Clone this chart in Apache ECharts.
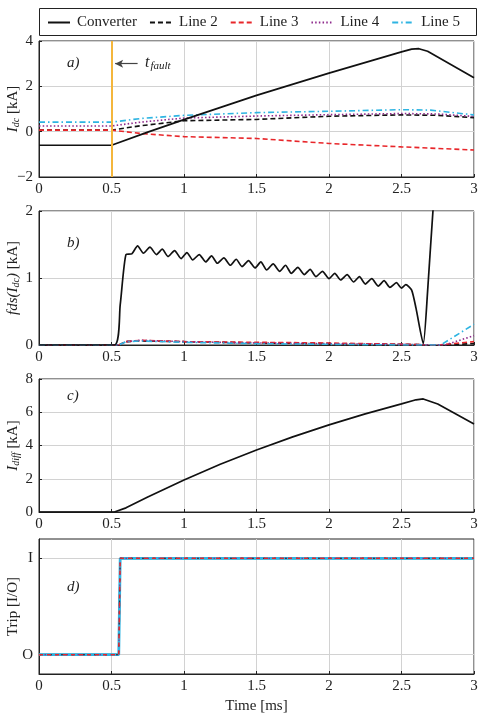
<!DOCTYPE html>
<html lang="en">
<head>
  <meta charset="UTF-8">
  <title>Fault currents</title>
  <script src="https://cdn.jsdelivr.net/npm/echarts@6/dist/echarts.min.js"></script>
  <style>
    html, body { margin: 0; padding: 0; background: #fff; }
    #chart { width: 481px; height: 713px; }
  </style>
</head>
<body>
  <div id="chart"></div>
  <script>
    // ---- data ----
    var xTicks = [0, 0.5, 1, 1.5, 2, 2.5, 3];
    var names = ['Converter', 'Line 2', 'Line 3', 'Line 4', 'Line 5'];
    var faultTime = 0.5;

    // a) DC currents [kA]
    var convA = [[0,-0.6],[0.5,-0.6],[0.75,-0.02],[1,0.53],[1.5,1.6],[2,2.58],[2.5,3.52],[2.57,3.64],[2.62,3.66],[2.68,3.55],[3,2.38]];
    var line2A = [[0,0.07],[0.5,0.07],[0.7,0.26],[1,0.48],[1.5,0.54],[2,0.68],[2.5,0.74],[2.75,0.72],[3,0.62]];
    var line3A = [[0,0.07],[0.5,0.07],[0.7,-0.08],[1,-0.22],[1.5,-0.3],[2,-0.52],[2.5,-0.67],[3,-0.81]];
    var line4A = [[0,0.25],[0.5,0.25],[0.7,0.42],[1,0.6],[1.5,0.69],[2,0.75],[2.5,0.8],[2.75,0.78],[3,0.67]];
    var line5A = [[0,0.42],[0.5,0.42],[0.7,0.58],[1,0.72],[1.5,0.84],[2,0.9],[2.5,0.97],[2.7,0.95],[3,0.74]];

    // b) fds(Idc) [kA]
    var convB = [[0,0],[0.52,0],[0.56,0.6],[0.6,1.35],[0.64,1.36],[0.68,1.48],[0.72,1.37],[0.765,1.46],[0.81,1.35],
      [0.85,1.43],[0.89,1.32],[0.935,1.41],[0.98,1.29],[1.02,1.38],[1.06,1.27],[1.105,1.35],[1.15,1.24],[1.19,1.33],
      [1.23,1.22],[1.275,1.3],[1.32,1.19],[1.36,1.28],[1.4,1.17],[1.445,1.26],[1.49,1.15],[1.53,1.24],[1.57,1.12],
      [1.615,1.21],[1.66,1.1],[1.7,1.19],[1.74,1.07],[1.785,1.16],[1.83,1.05],[1.87,1.13],[1.91,1.02],[1.955,1.1],
      [2,0.99],[2.04,1.07],[2.08,0.97],[2.125,1.05],[2.17,0.94],[2.21,1.02],[2.25,0.91],[2.295,0.99],[2.34,0.88],
      [2.38,0.96],[2.42,0.86],[2.465,0.93],[2.5,0.85],[2.53,0.9],[2.57,0.82],[2.6,0.55],[2.65,0.02],[2.68,0.8],[2.72,2.1],[2.76,3]];
    var line2B = [[0,0],[0.55,0],[0.6,0.05],[0.7,0.06],[1,0.05],[1.5,0.03],[2,0.02],[2.5,0.01],[2.75,0],[3,0.02]];
    var line3B = [[0,0],[0.55,0],[0.6,0.05],[0.7,0.07],[1,0.05],[1.5,0.04],[2,0.03],[2.5,0.01],[2.75,0],[2.85,0.02],[3,0.05]];
    var line4B = [[0,0],[0.55,0],[0.6,0.05],[0.7,0.07],[1,0.05],[1.5,0.03],[2,0.02],[2.5,0.01],[2.8,0],[3,0.14]];
    var line5B = [[0,0],[0.55,0],[0.6,0.05],[0.7,0.06],[1,0.04],[1.5,0.02],[2,0.01],[2.5,0],[2.77,0],[3,0.31]];

    // c) differential current [kA]
    var idiff = [[0,0],[0.52,0],[0.6,0.25],[0.75,0.9],[1,1.93],[1.25,2.87],[1.5,3.73],[1.75,4.52],[2,5.24],
      [2.25,5.9],[2.5,6.5],[2.6,6.75],[2.65,6.8],[2.75,6.5],[3,5.3]];

    // d) trip signal (0 = O, 1 = I)
    var tripConv = [[0,0],[0.55,0],[0.56,1],[3,1]];
    var tripLine = [[0,0],[0.55,0],[0.56,1],[3,1]];

    // fault arrow (data coords)
    var arrowFrom = [0.68, 3.0];
    var arrowTo = [0.525, 3.0];

    var colors = { conv: '#111', l2: '#111', l3: '#e8262a', l4: '#8e2a8c', l5: '#2eb4e2', fault: '#f4b63c', grid: '#d2d2d2' };
    var serif = 'Liberation Serif';

    var lineStyles = {
      'Converter': { color: colors.conv, width: 1.7, type: 'solid' },
      'Line 2': { color: colors.l2, width: 1.6, type: [5, 3] },
      'Line 3': { color: colors.l3, width: 1.6, type: [5, 3] },
      'Line 4': { color: colors.l4, width: 1.6, type: [1.5, 2.2] },
      'Line 5': { color: colors.l5, width: 1.6, type: [6, 3, 1.5, 3] }
    };

    var grids = [
      { left: 39, right: 7, top: 41, height: 136 },
      { left: 39, right: 7, top: 211, height: 134 },
      { left: 39, right: 7, top: 379, height: 133 },
      { left: 39, right: 7, top: 539, height: 135 }
    ];

    function xAxis(i) {
      return {
        type: 'value', gridIndex: i, min: 0, max: 3, interval: 0.5,
        axisLine: { show: true, onZero: false, lineStyle: { color: '#222' } },
        axisTick: { show: true, inside: true, length: 3, lineStyle: { color: '#222' } },
        axisLabel: { fontFamily: serif, fontSize: 15, color: '#222', margin: 5 },
        splitLine: { show: true, lineStyle: { color: colors.grid } },
        name: i === 3 ? 'Time [ms]' : '', nameLocation: 'middle', nameGap: 25, nameMoveOverlap: false,
        nameTextStyle: { fontFamily: serif, fontSize: 15, color: '#222' }
      };
    }
    var richName = {
      i: { fontFamily: serif, fontStyle: 'italic', fontSize: 15, color: '#222' },
      s: { fontFamily: serif, fontStyle: 'italic', fontSize: 10, color: '#222', verticalAlign: 'bottom', padding: [6, 0, 0, 0] }
    };
    function yAxis(i, min, max, interval, name) {
      return {
        type: 'value', gridIndex: i, min: min, max: max, interval: interval,
        axisLine: { show: true, onZero: false, lineStyle: { color: '#222' } },
        axisTick: { show: true, inside: true, length: 3, lineStyle: { color: '#222' } },
        axisLabel: { fontFamily: serif, fontSize: 15, color: '#222', margin: 6,
          formatter: function (v) { return v < 0 ? '\u2212' + (-v) : String(v); } },
        splitLine: { show: true, lineStyle: { color: colors.grid } },
        name: name, nameLocation: 'middle', nameRotate: 90, nameGap: 18, nameMoveOverlap: false,
        nameTextStyle: { fontFamily: serif, fontSize: 15, color: '#222', rich: richName }
      };
    }

    var yAxes = [
      yAxis(0, -2, 4, 2, '{i|I}{s|dc} [kA]'),
      yAxis(1, 0, 2, 1, '{i|fds(I}{s|dc}{i|)} [kA]'),
      yAxis(2, 0, 8, 2, '{i|I}{s|diff} [kA]'),
      yAxis(3, -0.2, 1.2, 0.2, 'Trip [I/O]')
    ];
    // trip axis: only O and I
    yAxes[3].axisLabel.customValues = [0, 1];
    yAxes[3].axisTick.customValues = [0, 1];
    yAxes[3].axisLabel.formatter = function (v) { return Math.abs(v) < 1e-6 ? 'O' : (Math.abs(v - 1) < 1e-6 ? 'I' : ''); };
    yAxes[3].splitLine.show = false;

    function mk(name, data, gi, extra) {
      var s = {
        type: 'line', name: name, data: data, xAxisIndex: gi, yAxisIndex: gi,
        symbol: 'none', clip: true, animation: false,
        lineStyle: Object.assign({}, lineStyles[name]),
        itemStyle: { color: lineStyles[name].color }
      };
      return Object.assign(s, extra || {});
    }

    var series = [
      mk('Line 2', line2A, 0), mk('Line 3', line3A, 0), mk('Line 4', line4A, 0), mk('Line 5', line5A, 0), mk('Converter', convA, 0),
      mk('Line 2', line2B, 1), mk('Line 3', line3B, 1), mk('Line 4', line4B, 1), mk('Line 5', line5B, 1), mk('Converter', convB, 1, { smooth: 0.2 }),
      mk('Converter', idiff, 2),
      mk('Converter', tripConv, 3),
      mk('Line 5', tripLine, 3, { lineStyle: { color: colors.l5, width: 2.8, type: 'solid' } }),
      mk('Line 4', tripLine, 3, { lineStyle: { color: colors.l4, width: 1.2, type: [1.5, 4] } }),
      mk('Line 2', tripLine, 3, { lineStyle: { color: '#333', width: 1, type: [2, 9] } }),
      mk('Line 3', tripLine, 3, { lineStyle: { color: colors.l3, width: 1.6, type: [4, 4] } }),
      // fault marker in a)
      {
        type: 'line', name: 'fault', data: [], xAxisIndex: 0, yAxisIndex: 0, z: 5, silent: true,
        markLine: {
          silent: true, animation: false, label: { show: false }, symbol: ['none', 'none'],
          lineStyle: { color: colors.fault, width: 2, type: 'solid' },
          data: [{ xAxis: faultTime }]
        }
      },
      // arrow pointing at the fault line
      {
        type: 'line', name: 'arrow', data: [], xAxisIndex: 0, yAxisIndex: 0, z: 5, silent: true,
        markLine: {
          silent: true, animation: false, label: { show: false }, symbol: ['none', 'arrow'], symbolSize: [6, 8],
          lineStyle: { color: '#444', width: 1.2, type: 'solid' },
          data: [[{ coord: arrowFrom }, { coord: arrowTo }]]
        }
      },
      // grid lines at O and I in d), kept under the traces
      {
        type: 'line', name: 'tripgrid', data: [], xAxisIndex: 3, yAxisIndex: 3, z: 0, silent: true,
        markLine: {
          z: 0, silent: true, animation: false, symbol: ['none', 'none'], label: { show: false },
          lineStyle: { color: colors.grid, width: 1, type: 'solid' },
          data: [{ yAxis: 0 }, { yAxis: 1 }]
        }
      }
    ];

    var chart = echarts.init(document.getElementById('chart'), null, { renderer: 'canvas' });
    var option = {
      animation: false,
      backgroundColor: '#fff',
      legend: {
        data: names, top: 10, left: 42, itemWidth: 22, itemHeight: 10, itemGap: 12,
        itemStyle: { color: 'rgba(0,0,0,0)', borderWidth: 0 },
        textStyle: { fontFamily: serif, fontSize: 15, color: '#222', padding: [0, 0, 0, 2] }
      },
      grid: grids.map(function (g) { return Object.assign({ show: true, borderColor: '#222', borderWidth: 1, containLabel: false, outerBoundsMode: 'none' }, g); }),
      xAxis: [0, 1, 2, 3].map(xAxis),
      yAxis: yAxes,
      series: series,
      graphic: [
        { type: 'rect', left: 37, top: 6, shape: { width: 437, height: 27 }, style: { fill: 'none', stroke: '#222', lineWidth: 1 } },
        { type: 'text', left: 67, top: 56, style: { text: 'a)', font: 'italic 15px "Liberation Serif"', fill: '#222' } },
        { type: 'text', left: 145, top: 55, style: { text: '{i|t}{s|fault}', font: 'italic 15px "Liberation Serif"', fill: '#222',
          rich: { i: { fontFamily: serif, fontStyle: 'italic', fontSize: 16, fill: '#222' },
                  s: { fontFamily: serif, fontStyle: 'italic', fontSize: 11, fill: '#222', verticalAlign: 'bottom', padding: [7, 0, 0, 1] } } } },
        { type: 'text', left: 67, top: 236, style: { text: 'b)', font: 'italic 15px "Liberation Serif"', fill: '#222' } },
        { type: 'text', left: 67, top: 389, style: { text: 'c)', font: 'italic 15px "Liberation Serif"', fill: '#222' } },
        { type: 'text', left: 67, top: 580, style: { text: 'd)', font: 'italic 15px "Liberation Serif"', fill: '#222' } }
      ]
    };
    chart.setOption(option);
  </script>
</body>
</html>
